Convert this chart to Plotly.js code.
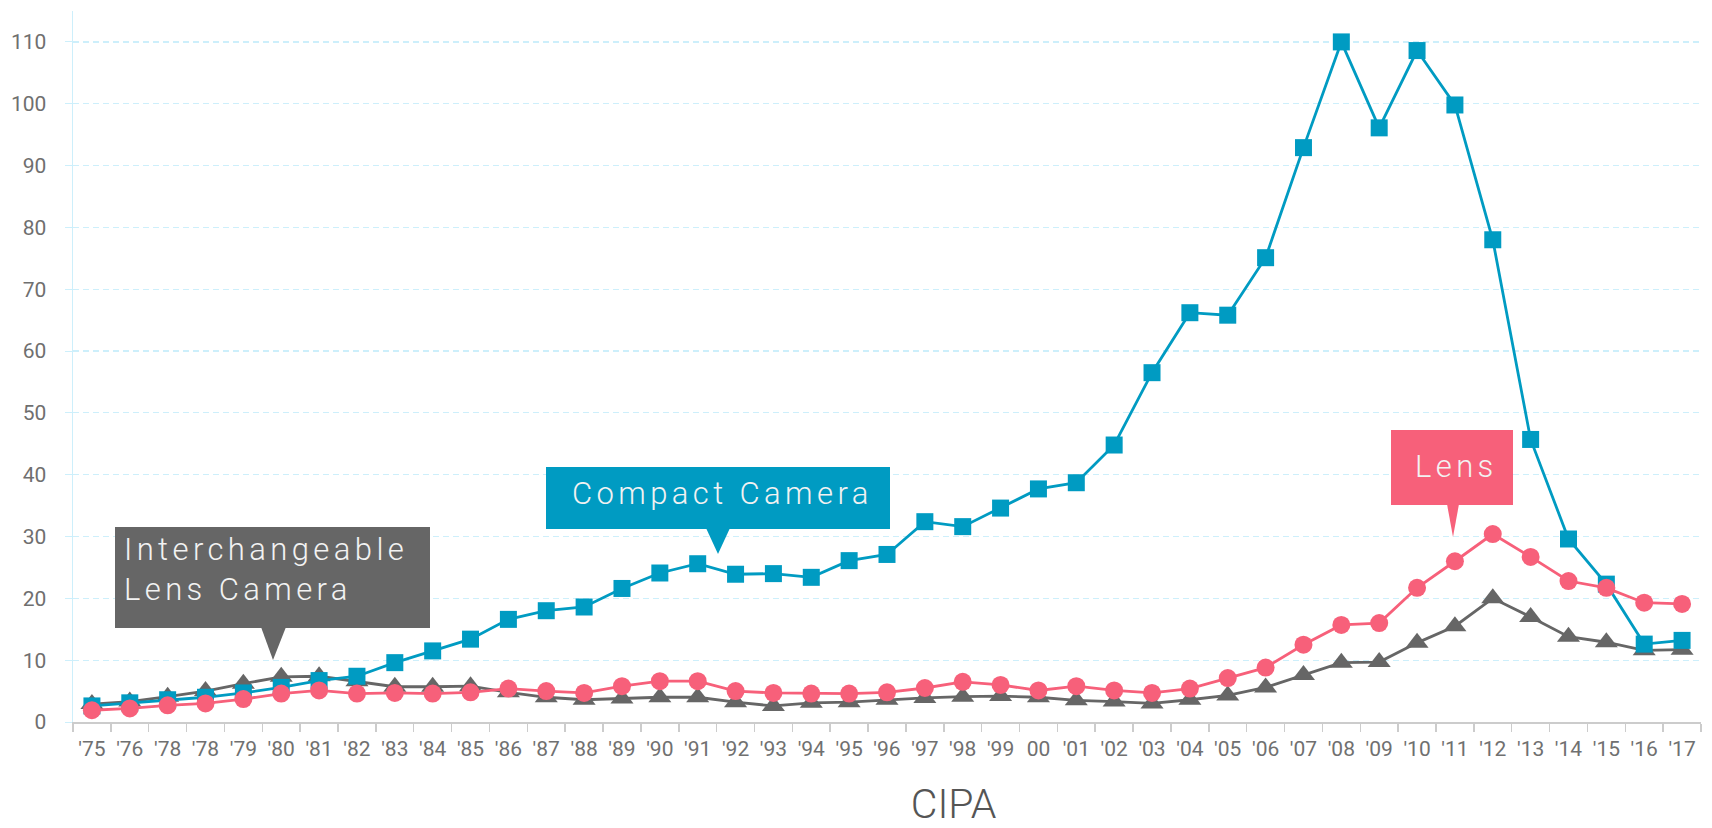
<!DOCTYPE html>
<html>
<head>
<meta charset="utf-8">
<script src="https://cdn.plot.ly/plotly-3.0.1.min.js"></script>
<style>
  html, body { margin: 0; padding: 0; background: #fff; }
  #chart { width: 1712px; height: 828px; }
  .annotation-text { letter-spacing: 4.4px; }
  .annotation[data-index="3"] .annotation-text { letter-spacing: 0px; }
</style>
</head>
<body>
<div id="chart"></div>
<script>
// ---- data ----
const years = ["1975","1976","1977","1978","1979","1980","1981","1982","1983","1984","1985","1986","1987","1988","1989","1990","1991","1992","1993","1994","1995","1996","1997","1998","1999","2000","2001","2002","2003","2004","2005","2006","2007","2008","2009","2010","2011","2012","2013","2014","2015","2016","2017"];
const tickLabels = ["'75","'76","'78","'78","'79","'80","'81","'82","'83","'84","'85","'86","'87","'88","'89","'90","'91","'92","'93","'94","'95","'96","'97","'98","'99","00","'01","'02","'03","'04","'05","'06","'07","'08","'09","'10","'11","'12","'13","'14","'15","'16","'17"];
const compactCamera = [2.6,3.1,3.6,4.0,4.7,5.6,6.7,7.4,9.6,11.5,13.4,16.6,18.0,18.6,21.6,24.1,25.6,23.9,24.0,23.4,26.1,27.1,32.4,31.6,34.6,37.7,38.7,44.8,56.5,66.2,65.8,75.1,92.9,110.0,96.1,108.6,99.8,78.0,45.7,29.6,22.3,12.6,13.2];
const lens = [1.9,2.2,2.7,3.0,3.7,4.6,5.1,4.6,4.7,4.6,4.8,5.4,5.0,4.7,5.8,6.6,6.6,5.0,4.7,4.6,4.6,4.8,5.5,6.5,6.0,5.1,5.8,5.1,4.7,5.4,7.1,8.8,12.5,15.7,16.0,21.7,26.0,30.4,26.7,22.8,21.7,19.3,19.1];
const interchangeable = [2.9,3.3,4.1,5.0,6.2,7.3,7.4,6.6,5.7,5.7,5.8,4.8,4.0,3.6,3.8,4.0,4.0,3.2,2.6,3.1,3.2,3.6,3.9,4.1,4.2,4.0,3.5,3.3,3.0,3.6,4.3,5.6,7.6,9.6,9.7,12.8,15.5,20.0,17.0,13.8,12.9,11.6,11.7];
const yTicks = [0,10,20,30,40,50,60,70,80,90,100,110];

// ---- styling ----
const BLUE = "#009bc2", PINK = "#f7607a", GRAY = "#666666";
const L = 73, R = 1701, T = 11, B = 722;
const px = x => (x - L) / (R - L);
const py = y => (B - y) / (B - T);

const traces = [
  { x: years, y: interchangeable, type: "scatter", mode: "lines+markers", name: "Interchangeable Lens Camera",
    line: { color: GRAY, width: 2.8 }, marker: { symbol: "triangle-up", size: 20, color: GRAY }, cliponaxis: false },
  { x: years, y: compactCamera, type: "scatter", mode: "lines+markers", name: "Compact Camera",
    line: { color: BLUE, width: 2.8 }, marker: { symbol: "square", size: 17, color: BLUE }, cliponaxis: false },
  { x: years, y: lens, type: "scatter", mode: "lines+markers", name: "Lens",
    line: { color: PINK, width: 2.8 }, marker: { symbol: "circle", size: 18, color: PINK }, cliponaxis: false }
];

function pointer(xl, xr, yb, xa, ya) {
  return `M ${px(xl)} ${py(yb)} L ${px(xr)} ${py(yb)} L ${px(xa)} ${py(ya)} Z`;
}
const boxFont = { family: "Roboto, 'Noto Sans', sans-serif", size: 31, weight: 300, color: "#f2f2f2" };

const layout = {
  width: 1712, height: 828,
  margin: { l: L, r: 1712 - R, t: T, b: 828 - B },
  paper_bgcolor: "#ffffff", plot_bgcolor: "#ffffff",
  showlegend: false,
  font: { family: "Roboto, 'Noto Sans', sans-serif", color: "#6f6f6f" },
  xaxis: {
    type: "category", range: [-0.5, 42.5],
    tickmode: "array", tickvals: years, ticktext: tickLabels,
    tickson: "boundaries", ticks: "outside", ticklen: 8, tickcolor: "#cccccc", tickwidth: 1.5,
    showline: true, linecolor: "#cccccc", linewidth: 1.5,
    showgrid: false, zeroline: false,
    tickfont: { size: 21, color: "#707070" }, ticklabelstandoff: 7
  },
  yaxis: {
    range: [0, 115], tickmode: "array", tickvals: yTicks,
    ticks: "outside", ticklen: 7, tickcolor: "#cdeffb",
    showline: true, linecolor: "#cdeffb", linewidth: 1.5,
    showgrid: true, gridcolor: "#cdeffb", griddash: "6px,4px", gridwidth: 1.2,
    zeroline: false,
    tickfont: { size: 21, color: "#6f6f6f" }, ticklabelstandoff: 14
  },
  shapes: [
    { type: "rect", xref: "paper", yref: "paper", x0: px(115), x1: px(430), y0: py(628), y1: py(527), fillcolor: GRAY, line: { width: 0 }, layer: "above" },
    { type: "path", xref: "paper", yref: "paper", path: pointer(261, 286, 627, 273, 660), fillcolor: GRAY, line: { width: 0 }, layer: "above" },
    { type: "rect", xref: "paper", yref: "paper", x0: px(546), x1: px(890), y0: py(529), y1: py(467), fillcolor: BLUE, line: { width: 0 }, layer: "above" },
    { type: "path", xref: "paper", yref: "paper", path: pointer(706, 730, 528, 718, 554), fillcolor: BLUE, line: { width: 0 }, layer: "above" },
    { type: "rect", xref: "paper", yref: "paper", x0: px(1391), x1: px(1513), y0: py(505), y1: py(430), fillcolor: PINK, line: { width: 0 }, layer: "above" },
    { type: "path", xref: "paper", yref: "paper", path: pointer(1447, 1459, 504, 1453, 537), fillcolor: PINK, line: { width: 0 }, layer: "above" }
  ],
  annotations: [
    { text: "Interchangeable<br>Lens Camera", xref: "paper", yref: "paper", x: px(122), y: py(569),
      xanchor: "left", yanchor: "middle", align: "left", showarrow: false, font: boxFont },
    { text: "Compact Camera", xref: "paper", yref: "paper", x: px(722), y: py(494),
      xanchor: "center", yanchor: "middle", showarrow: false, font: boxFont },
    { text: "Lens", xref: "paper", yref: "paper", x: px(1456), y: py(466),
      xanchor: "center", yanchor: "middle", showarrow: false, font: boxFont },
    { text: "CIPA", xref: "paper", yref: "paper", x: px(953), y: py(804),
      xanchor: "center", yanchor: "middle", showarrow: false,
      font: { family: "Roboto, 'Noto Sans', sans-serif", size: 41, weight: 300, color: "#555555" } }
  ]
};

Plotly.newPlot("chart", traces, layout, { displayModeBar: false, staticPlot: true });
</script>
</body>
</html>
